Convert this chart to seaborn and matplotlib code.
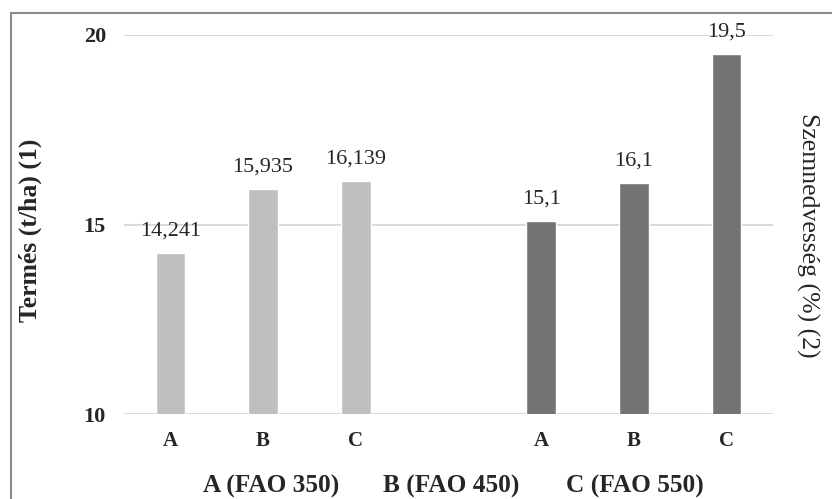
import matplotlib
matplotlib.use("Agg")
import matplotlib.pyplot as plt
import seaborn as sns
import pandas as pd
from matplotlib.patches import Rectangle

sns.set_theme(style="white")
plt.rcParams["font.family"] = ["Liberation Serif", "DejaVu Serif"]

# Yield (t/ha) for hybrids A, B, C and grain moisture (%) for the same hybrids
slots = ["y_A", "y_B", "y_C", "gap", "m_A", "m_B", "m_C"]
tick_labels = ["A", "B", "C", "", "A", "B", "C"]
yield_slots = ["y_A", "y_B", "y_C"]
yield_values = [14.241, 15.935, 16.139]
moisture_slots = ["m_A", "m_B", "m_C"]
moisture_values = [15.1, 16.1, 19.5]
legend_labels = ["A (FAO 350)", "B (FAO 450)", "C (FAO 550)"]
y_ticks = [10, 15, 20]

df = pd.DataFrame({
    "slot": yield_slots + moisture_slots,
    "value": yield_values + moisture_values,
    "group": ["yield"] * 3 + ["moisture"] * 3,
})

fig = plt.figure(figsize=(8.32, 4.99), dpi=100)
ax = fig.add_axes([124 / 832, 1 - 414 / 499, (773 - 124) / 832, (414 - 35) / 499])

sns.barplot(data=df, x="slot", y="value", hue="group", order=slots,
            hue_order=["yield", "moisture"],
            palette={"yield": "#BFBFBF", "moisture": "#767171"},
            dodge=False, width=0.32, legend=False, ax=ax, zorder=3)

ax.set_ylim(10, 20)
ax.set_xlim(-0.5, 6.5)
ax.set_yticks(y_ticks)
ax.set_yticklabels([str(t) for t in y_ticks], fontsize=16, fontweight="bold")
ax.set_xticks(range(len(slots)))
ax.set_xticklabels(tick_labels, fontsize=15, fontweight="bold")
ax.tick_params(axis="y", length=0, pad=13)
ax.tick_params(axis="x", length=0, pad=12)
ax.set_xlabel("")
ax.set_ylabel("")
ax.grid(axis="y", color="#D9D9D9", linewidth=1.4, zorder=0)
for s in ax.spines.values():
    s.set_visible(False)

# Value labels above each bar
for container in ax.containers:
    labels = []
    for bar in container:
        h = bar.get_height()
        labels.append(f"{h:g}".replace(".", ",") if h == h else "")
    ax.bar_label(container, labels=labels, padding=9, fontsize=16)

# Axis titles
fig.text(30 / 832, 1 - 230 / 499, "Termés (t/ha) (1)", rotation=90,
         ha="center", va="center", fontsize=18.5, fontweight="bold")
fig.text(808 / 832, 1 - 235 / 499, "Szemnedvesség (%) (2)", rotation=-90,
         ha="center", va="center", fontsize=18.5)

# Hybrid key along the bottom
for x, lab in zip([271.5, 451.5, 634.5], legend_labels):
    fig.text(x / 832, 1 - 486 / 499, lab, ha="center", va="center",
             fontsize=18.3, fontweight="bold")

# Chart frame
fig.patches.append(Rectangle((11 / 832, -0.1), 1.0, (1 - 13 / 499) + 0.1,
                             transform=fig.transFigure, fill=False,
                             edgecolor="#8C8C8C", linewidth=1.5))

fig.savefig("out.png", dpi=100)
